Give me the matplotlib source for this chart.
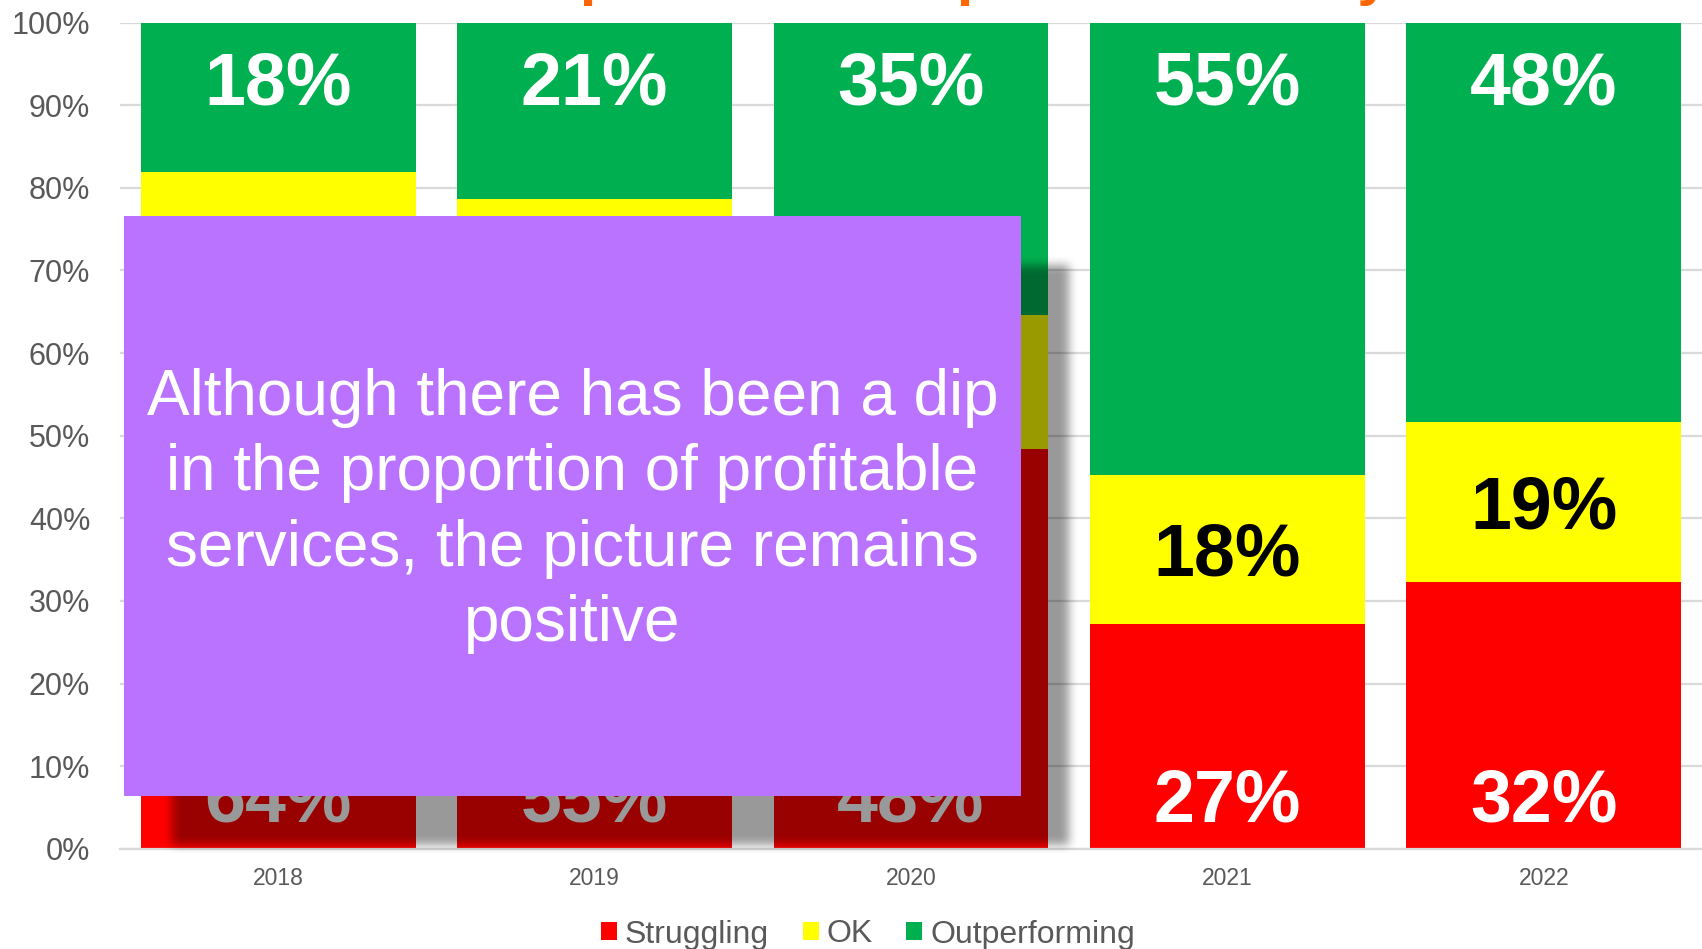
import numpy as np
import matplotlib
matplotlib.use("Agg")
import matplotlib.pyplot as plt
from matplotlib.patches import Rectangle, Patch

# ---- data -------------------------------------------------------------
years = ["2018", "2019", "2020", "2021", "2022"]
struggling = [64.0, 55.0, 48.4, 27.2, 32.3]
ok = [17.9, 23.7, 16.2, 18.1, 19.3]
outperforming = [18.1, 21.3, 35.4, 54.7, 48.4]
series_names = ["Struggling", "OK", "Outperforming"]
y_ticks = [0, 10, 20, 30, 40, 50, 60, 70, 80, 90, 100]

title_text = "Services in profit across practices this year"
callout_text = ("Although there has been a dip\n"
                "in the proportion of profitable\n"
                "services, the picture remains\n"
                "positive")

# ---- styling ----------------------------------------------------------
plt.rcParams["font.family"] = ["Liberation Sans", "DejaVu Sans"]
RED, YELLOW, GREEN = "#FF0000", "#FFFF00", "#00B050"
GRID = "#D9D9D9"
TEXT_GREY = "#595959"
PURPLE = "#B973FF"
ORANGE = "#FF6600"

W, H = 1702, 949
fig = plt.figure(figsize=(W / 100, H / 100), dpi=100)

ax_left, ax_top, ax_bottom = 120, 22.7, 848.7
ax = fig.add_axes([ax_left / W, 1 - ax_bottom / H, 1 - ax_left / W,
                   (ax_bottom - ax_top) / H])

x = np.arange(len(years))
bw = 0.869
base_ok = np.array(struggling)
base_out = base_ok + np.array(ok)
ax.bar(x, struggling, bw, color=RED, label=series_names[0], zorder=2)
ax.bar(x, ok, bw, bottom=base_ok, color=YELLOW, label=series_names[1], zorder=2)
ax.bar(x, outperforming, bw, bottom=base_out, color=GREEN,
       label=series_names[2], zorder=2)

ax.set_xlim(-0.5, len(years) - 0.5)
ax.set_ylim(0, 100)
ax.set_yticks(y_ticks)
ax.set_yticklabels([f"{t}%" for t in y_ticks])
ax.set_xticks(x)
ax.set_xticklabels(years)
ax.yaxis.grid(True, color=GRID, linewidth=1.6, zorder=0)
ax.set_axisbelow(True)
for side in ("top", "right", "left"):
    ax.spines[side].set_visible(False)
ax.spines["bottom"].set_color(GRID)
ax.spines["bottom"].set_linewidth(1.6)
ax.tick_params(axis="y", length=0, pad=21.5, labelsize=22, labelcolor=TEXT_GREY)
ax.tick_params(axis="x", length=0, pad=13.5, labelsize=16.5, labelcolor=TEXT_GREY)

# ---- value labels -----------------------------------------------------
LABEL_PT = 53
cap_pts = 0.716 * LABEL_PT


def put_label(xc, yc, value, color):
    ax.annotate(f"{value:.0f}%", (xc, yc), xytext=(0, -cap_pts / 2),
                textcoords="offset points", ha="center", va="baseline",
                fontsize=LABEL_PT, fontweight="bold", color=color, zorder=3)


for i in range(len(years)):
    put_label(x[i], 6.5, struggling[i], "white")
    put_label(x[i], base_ok[i] + ok[i] / 2, ok[i], "black")
    put_label(x[i], 93.3, outperforming[i], "white")

# ---- legend -----------------------------------------------------------
handles = [Patch(facecolor=c, edgecolor="none") for c in (RED, YELLOW, GREEN)]
fig.legend(handles, series_names, loc="center", ncol=3, frameon=False,
           bbox_to_anchor=(868 / W, 14.5 / H), fontsize=23,
           labelcolor=TEXT_GREY, handlelength=0.5, handleheight=0.5,
           handletextpad=0.25, columnspacing=1.05, borderpad=0,
           borderaxespad=0)

# ---- title (sits above the canvas edge) -------------------------------
fig.text(249 / W, 1 + 5.6 / H, title_text, ha="left", va="baseline",
         fontsize=42.8, fontweight="bold", color=ORANGE)

# ---- call-out box with soft drop shadow -------------------------------
ov = fig.add_axes([0, 0, 1, 1], zorder=10)
ov.set_xlim(0, W)
ov.set_ylim(H, 0)
ov.axis("off")
ov.patch.set_alpha(0)

box_x0, box_y0, box_x1, box_y1 = 124, 216, 1021, 796
sh_dx, sh_dy, blur = 48, 49, 9

mask = np.zeros((H, W))
mask[box_y0 + sh_dy:box_y1 + sh_dy, box_x0 + sh_dx:box_x1 + sh_dx] = 1.0


def box_blur(a, r, axis):
    k = np.ones(2 * r + 1) / (2 * r + 1)
    return np.apply_along_axis(lambda v: np.convolve(v, k, mode="same"), axis, a)


for _ in range(2):
    mask = box_blur(mask, blur // 2 + 1, 0)
    mask = box_blur(mask, blur // 2 + 1, 1)

shadow = np.zeros((H, W, 4))
shadow[..., 3] = 0.4 * mask
ov.imshow(shadow, extent=(0, W, H, 0), interpolation="nearest", zorder=1,
          aspect="auto")
ov.set_xlim(0, W)
ov.set_ylim(H, 0)

ov.add_patch(Rectangle((box_x0, box_y0), box_x1 - box_x0, box_y1 - box_y0,
                       facecolor=PURPLE, edgecolor="none", zorder=2))
ov.text((box_x0 + box_x1) / 2, (box_y0 + box_y1) / 2 + 5, callout_text,
        ha="center", va="center", multialignment="center", fontsize=46,
        color="white", linespacing=1.32, zorder=3)

fig.savefig("out.png", dpi=100)
